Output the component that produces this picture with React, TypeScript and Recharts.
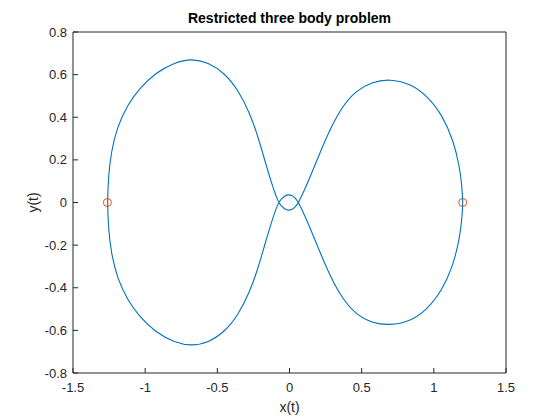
import React from 'react';
import { ComposedChart, Line, Scatter, XAxis, YAxis, Label } from 'recharts';

// Orbit path, in drawing order
const orbitX = [
  1.2, 1.196, 1.178, 1.132, 1.055, 0.95, 0.835, 0.693, 0.57, 0.46, 0.365, 0.285, 0.215, 0.155, 0.105, 0.062,
  0.04, 0.015, -0.008, -0.03, -0.055, -0.078,
  -0.122, -0.168, -0.218, -0.275, -0.356, -0.448, -0.564, -0.679, -0.794, -0.93, -1.04, -1.122, -1.193, -1.235, -1.255, -1.262,
  -1.255, -1.235, -1.193, -1.122, -1.04, -0.93, -0.794, -0.679, -0.564, -0.448, -0.356, -0.275, -0.218, -0.168, -0.122, -0.078,
  -0.055, -0.03, -0.008, 0.015, 0.04, 0.062,
  0.105, 0.155, 0.215, 0.285, 0.365, 0.46, 0.57, 0.693, 0.835, 0.955, 1.06, 1.135, 1.178, 1.196, 1.2,
];
const orbitY = [
  0, -0.07, -0.17, -0.3, -0.415, -0.505, -0.558, -0.577, -0.565, -0.525, -0.45, -0.35, -0.24, -0.14, -0.06, 0,
  0.022, 0.034, 0.037, 0.032, 0.018, 0,
  -0.085, -0.19, -0.309, -0.419, -0.528, -0.606, -0.658, -0.673, -0.658, -0.608, -0.535, -0.458, -0.356, -0.24, -0.12, 0,
  0.12, 0.24, 0.356, 0.458, 0.535, 0.608, 0.658, 0.675, 0.658, 0.606, 0.528, 0.419, 0.309, 0.19, 0.085, 0,
  -0.018, -0.032, -0.037, -0.034, -0.022, 0,
  0.06, 0.14, 0.24, 0.35, 0.45, 0.525, 0.565, 0.58, 0.558, 0.5, 0.408, 0.292, 0.17, 0.07, 0,
];

// Event points (circles)
const eventX = [1.2, -1.262];
const eventY = [0, 0];

const xTicks = [-1.5, -1, -0.5, 0, 0.5, 1, 1.5];
const yTicks = [-0.8, -0.6, -0.4, -0.2, 0, 0.2, 0.4, 0.6, 0.8];

const orbitData = orbitX.map((x, i) => ({ x, y: orbitY[i] }));
const eventData = eventX.map((x, i) => ({ x, y: eventY[i] }));

const AX = '#262626';
const FONT = '"Liberation Sans", Arial, Helvetica, sans-serif';
const tickStyle = { fill: AX, fontSize: 13, fontFamily: FONT };

const Ring = (props: any) => {
  const { cx, cy } = props;
  if (cx == null || cy == null) return null;
  return <circle cx={cx} cy={cy} r={4} fill="none" stroke="#D95319" strokeWidth={1} />;
};

const Nothing = () => null;

export default function App() {
  return (
    <div style={{ position: 'absolute', left: 0, top: 0, width: 560, height: 420, background: '#fff' }}>
      <div
        style={{
          position: 'absolute',
          left: 73,
          width: 433,
          top: 11,
          textAlign: 'center',
          fontFamily: FONT,
          fontWeight: 'bold',
          fontSize: 14,
          lineHeight: '14px',
          color: '#000',
        }}
      >
        Restricted three body problem
      </div>
      <ComposedChart width={560} height={420} margin={{ top: 31, right: 53, bottom: 0, left: 0 }}>
        <XAxis
          xAxisId="main"
          dataKey="x"
          type="number"
          domain={[-1.5, 1.5]}
          ticks={xTicks}
          interval={0}
          height={47}
          stroke={AX}
          tickSize={-5}
          tickMargin={15}
          tick={tickStyle}
        >
          <Label
            value="x(t)"
            position="insideBottom"
            offset={8}
            style={{ fill: AX, fontSize: 14, fontFamily: FONT }}
          />
        </XAxis>
        <XAxis
          xAxisId="top"
          orientation="top"
          dataKey="x"
          type="number"
          domain={[-1.5, 1.5]}
          ticks={xTicks}
          interval={0}
          height={1}
          stroke={AX}
          tickSize={-5}
          tick={false}
        />
        <YAxis
          yAxisId="main"
          dataKey="y"
          type="number"
          domain={[-0.8, 0.8]}
          ticks={yTicks}
          interval={0}
          width={73}
          stroke={AX}
          tickSize={-5}
          tickMargin={11}
          tick={tickStyle}
        >
          <Label
            content={(p: any) => {
              const vb = p.viewBox || { x: 0, y: 32, width: 73, height: 341 };
              const cx = vb.x + 33;
              const cy = vb.y + vb.height / 2;
              return (
                <text
                  x={cx}
                  y={cy}
                  transform={`rotate(-90, ${cx}, ${cy})`}
                  textAnchor="middle"
                  dominantBaseline="central"
                  style={{ fill: AX, fontSize: 14, fontFamily: FONT }}
                >
                  y(t)
                </text>
              );
            }}
          />
        </YAxis>
        <YAxis
          yAxisId="right"
          orientation="right"
          dataKey="y"
          type="number"
          domain={[-0.8, 0.8]}
          ticks={yTicks}
          interval={0}
          width={1}
          stroke={AX}
          tickSize={-5}
          tick={false}
        />
        <Line
          xAxisId="main"
          yAxisId="main"
          data={orbitData}
          dataKey="y"
          type="basis"
          stroke="#0072BD"
          strokeWidth={1.1}
          dot={false}
          activeDot={false}
          isAnimationActive={false}
        />
        <Scatter
          xAxisId="main"
          yAxisId="main"
          data={eventData}
          dataKey="y"
          shape={Ring}
          isAnimationActive={false}
        />
        <Scatter
          xAxisId="top"
          yAxisId="right"
          data={eventData}
          dataKey="y"
          shape={Nothing}
          isAnimationActive={false}
        />
      </ComposedChart>
    </div>
  );
}
